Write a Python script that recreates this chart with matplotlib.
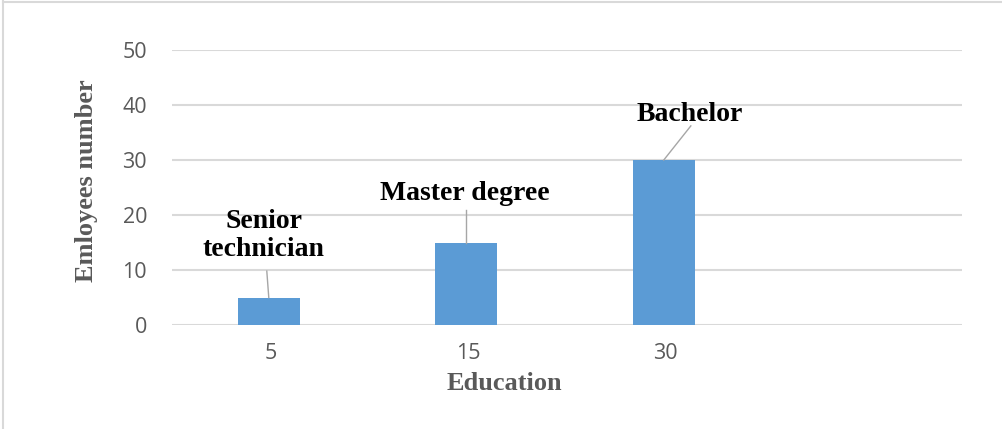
import numpy as np
import matplotlib.pyplot as plt
from matplotlib.lines import Line2D

# data
categories = ['5', '15', '30', '']
employees = [5, 15, 30, 0]
bar_labels = ['Senior\ntechnician', 'Master degree', 'Bachelor']
# label anchor positions (x, y) and leader line end points, in data units
label_pos = [(-0.035, 16.2), (0.985, 24.0), (2.12, 38.2)]
leader_end = [(-0.02, 9.8), (0.99, 20.9), (2.127, 36.2)]

bar_color = '#5b9bd5'
grid_color = '#d9d9d9'
text_gray = '#595959'

fig = plt.figure(figsize=(10.02, 4.29), dpi=100)
ax = fig.add_axes([172/1002, 1 - 325/429, 790/1002, 275/429])

index = np.arange(len(categories))
ax.bar(index[:3] - 0.01, employees[:3], 0.314, color=bar_color, zorder=3)

ax.set_xlim(-0.5, 3.5)
ax.set_ylim(0, 50)
ax.set_yticks(np.arange(0, 51, 10))
ax.set_xticks(index[:3])
ax.set_xticklabels(categories[:3])

for y in np.arange(0, 51, 10):
    ax.axhline(y, color=grid_color, lw=1.5, zorder=1)

for s in ax.spines.values():
    s.set_visible(False)
ax.tick_params(length=0, labelsize=15.5, labelcolor=text_gray)
ax.tick_params(axis='y', pad=18)
ax.tick_params(axis='x', pad=13)
for t in ax.get_xticklabels() + ax.get_yticklabels():
    t.set_fontfamily('Open Sans')

# data labels with leader lines
for i, (lab, (tx, ty), (lx, ly)) in enumerate(zip(bar_labels, label_pos, leader_end)):
    ax.plot([index[i] - 0.01, lx], [employees[i], ly], color='#a6a6a6', lw=1.0, zorder=4)
    ax.text(tx, ty, lab, ha='center', va='center', fontsize=20,
            fontweight='bold', family='Liberation Serif', color='black',
            linespacing=1.15, zorder=5)

ax.set_xlabel('Education', fontsize=19, fontweight='bold',
              family='Liberation Serif', color=text_gray)
ax.xaxis.set_label_coords((504 - 172) / 790, (325 - 383) / 275)
ax.xaxis.label.set_va('center')
ax.set_ylabel('Emloyees number', fontsize=19, fontweight='bold',
              family='Liberation Serif', color=text_gray)
ax.yaxis.set_label_coords((86 - 172) / 790, (325 - 181) / 275)
ax.yaxis.label.set_va('center')

# frame around the chart area
fig.add_artist(Line2D([3/1002, 3/1002], [0, 1 - 1/429], color='#d9d9d9', lw=1.5))
fig.add_artist(Line2D([3/1002, 1], [1 - 1.5/429, 1 - 1.5/429], color='#d9d9d9', lw=1.5))

plt.savefig('out.png', dpi=100)
